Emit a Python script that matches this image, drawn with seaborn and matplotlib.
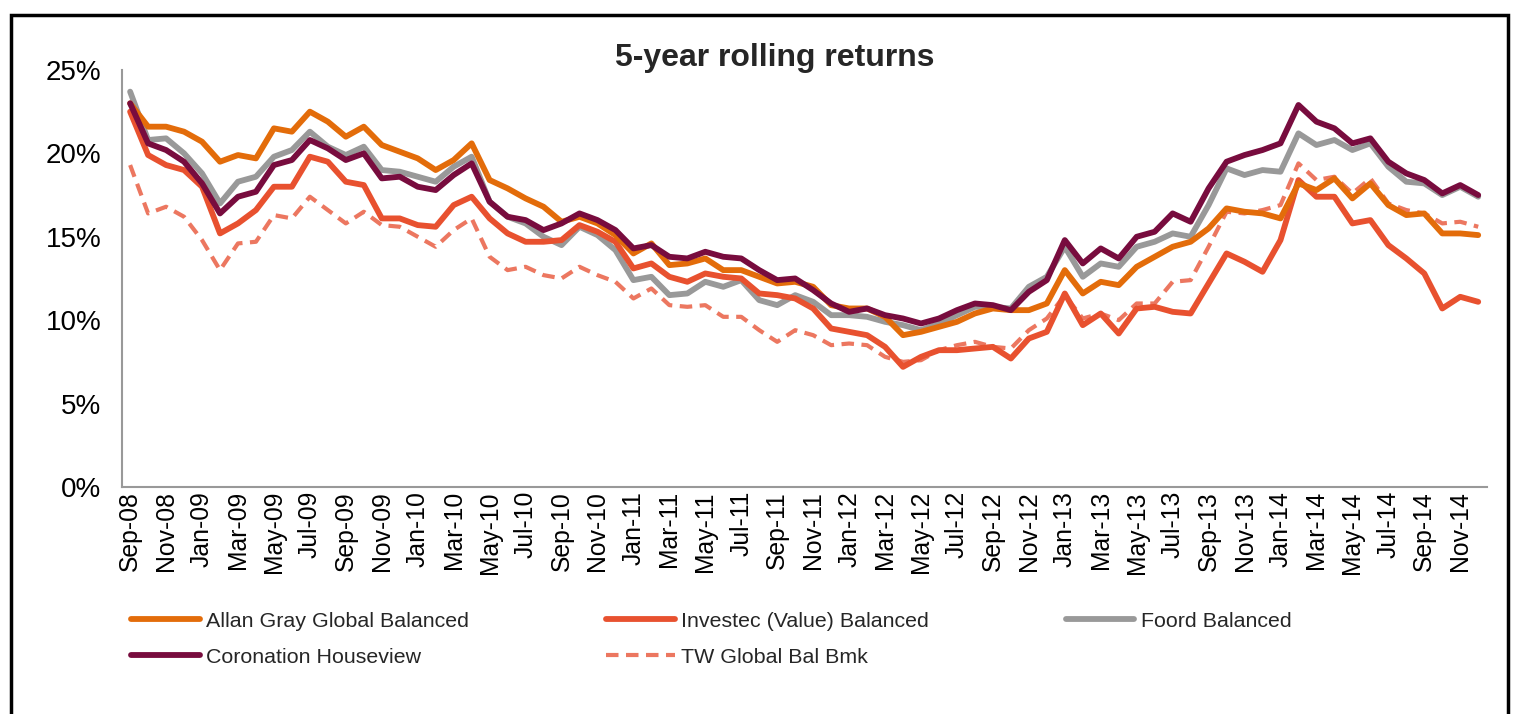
import matplotlib
matplotlib.use("Agg")
import matplotlib.pyplot as plt
import matplotlib.patches as mpatches
import numpy as np
import pandas as pd
import seaborn as sns

months = pd.date_range("2008-09-01", periods=76, freq="MS").strftime("%b-%y").tolist()

allan_gray = [
    23.0, 21.6, 21.6, 21.3, 20.7, 19.5, 19.9, 19.7, 21.5, 21.3, 22.5, 21.9,
    21.0, 21.6, 20.5, 20.1, 19.7, 19.0, 19.6, 20.6, 18.4, 17.9, 17.3, 16.8,
    15.9, 16.2, 15.8, 15.1, 14.0, 14.6, 13.3, 13.4, 13.7, 13.0, 13.0, 12.6,
    12.2, 12.3, 12.0, 10.9, 10.7, 10.7, 10.2, 9.1, 9.3, 9.6, 9.9, 10.4,
    10.7, 10.6, 10.6, 11.0, 13.0, 11.6, 12.3, 12.1, 13.2, 13.8, 14.4, 14.7,
    15.5, 16.7, 16.5, 16.4, 16.1, 18.2, 17.8, 18.5, 17.3, 18.2, 16.9, 16.3,
    16.4, 15.2, 15.2, 15.1,
]
investec = [
    22.5, 19.9, 19.3, 19.0, 18.0, 15.2, 15.8, 16.6, 18.0, 18.0, 19.8, 19.5,
    18.3, 18.1, 16.1, 16.1, 15.7, 15.6, 16.9, 17.4, 16.1, 15.2, 14.7, 14.7,
    14.8, 15.7, 15.3, 14.7, 13.1, 13.4, 12.6, 12.3, 12.8, 12.6, 12.5, 11.6,
    11.5, 11.3, 10.7, 9.5, 9.3, 9.1, 8.4, 7.2, 7.8, 8.2, 8.2, 8.3,
    8.4, 7.7, 8.9, 9.3, 11.6, 9.7, 10.4, 9.2, 10.7, 10.8, 10.5, 10.4,
    12.2, 14.0, 13.5, 12.9, 14.8, 18.4, 17.4, 17.4, 15.8, 16.0, 14.5, 13.7,
    12.8, 10.7, 11.4, 11.1,
]
foord = [
    23.7, 20.8, 20.9, 20.0, 18.8, 17.0, 18.3, 18.6, 19.8, 20.2, 21.3, 20.4,
    19.9, 20.4, 19.0, 18.9, 18.6, 18.3, 19.2, 19.8, 17.1, 16.2, 15.8, 15.0,
    14.5, 15.6, 15.1, 14.2, 12.4, 12.6, 11.5, 11.6, 12.3, 12.0, 12.4, 11.2,
    10.9, 11.5, 11.1, 10.3, 10.3, 10.2, 9.9, 9.7, 9.4, 9.8, 10.3, 10.8,
    10.8, 10.7, 12.0, 12.6, 14.4, 12.6, 13.4, 13.2, 14.4, 14.7, 15.2, 15.0,
    16.9, 19.1, 18.7, 19.0, 18.9, 21.2, 20.5, 20.8, 20.2, 20.6, 19.2, 18.3,
    18.2, 17.5, 18.0, 17.4,
]
coronation = [
    23.0, 20.6, 20.2, 19.5, 18.2, 16.4, 17.4, 17.7, 19.3, 19.6, 20.8, 20.3,
    19.6, 20.0, 18.5, 18.6, 18.0, 17.8, 18.7, 19.4, 17.1, 16.2, 16.0, 15.4,
    15.8, 16.4, 16.0, 15.4, 14.3, 14.5, 13.8, 13.7, 14.1, 13.8, 13.7, 13.0,
    12.4, 12.5, 11.8, 11.0, 10.5, 10.7, 10.3, 10.1, 9.8, 10.1, 10.6, 11.0,
    10.9, 10.6, 11.7, 12.4, 14.8, 13.4, 14.3, 13.7, 15.0, 15.3, 16.4, 15.9,
    17.9, 19.5, 19.9, 20.2, 20.6, 22.9, 21.9, 21.5, 20.6, 20.9, 19.5, 18.8,
    18.4, 17.6, 18.1, 17.5,
]
tw_bmk = [
    19.3, 16.4, 16.8, 16.2, 14.8, 13.0, 14.6, 14.7, 16.3, 16.1, 17.4, 16.6,
    15.8, 16.5, 15.7, 15.6, 15.0, 14.4, 15.4, 16.1, 13.8, 13.0, 13.2, 12.7,
    12.5, 13.2, 12.7, 12.3, 11.3, 11.9, 10.9, 10.8, 10.9, 10.2, 10.2, 9.4,
    8.7, 9.4, 9.1, 8.5, 8.6, 8.5, 7.8, 7.5, 7.6, 8.2, 8.5, 8.7,
    8.4, 8.3, 9.4, 10.1, 11.5, 10.1, 10.4, 10.0, 11.0, 11.0, 12.3, 12.4,
    14.4, 16.5, 16.4, 16.6, 16.9, 19.4, 18.4, 18.6, 17.6, 18.5, 17.0, 16.6,
    16.4, 15.8, 15.9, 15.6,
]

series = [
    ("Allan Gray Global Balanced", allan_gray, "#E36C0A", "-", 4.2),
    ("Investec (Value) Balanced", investec, "#E8512F", "-", 4.2),
    ("Foord Balanced", foord, "#999999", "-", 4.2),
    ("Coronation Houseview", coronation, "#780C3E", "-", 4.2),
    ("TW Global Bal Bmk", tw_bmk, "#EC7760", (0, (3, 1.8)), 3.0),
]

sns.set_style("white")
plt.rcParams["font.family"] = ["Liberation Sans", "DejaVu Sans"]

fig = plt.figure(figsize=(15.16, 7.14), dpi=100)
ax = fig.add_axes([0.0805, 0.318, 0.9005, 0.584])

x = np.arange(len(months))
draw_order = [2, 4, 1, 0, 3]
for k in draw_order:
    name, vals, color, ls, lw = series[k]
    sns.lineplot(x=x, y=vals, ax=ax, color=color, linewidth=lw,
                 linestyle=ls, label=name, legend=False)

ax.set_xlim(-0.45, 75.5)
ax.set_ylim(0, 25)
ax.set_yticks(range(0, 26, 5))
ax.set_yticklabels([f"{v}%" for v in range(0, 26, 5)], fontsize=20)
ax.set_xticks(x[::2])
ax.set_xticklabels(months[::2], rotation=90, fontsize=17.8)
ax.tick_params(axis="both", length=0, labelcolor="black")
ax.tick_params(axis="x", pad=3)
ax.tick_params(axis="y", pad=15)
for side in ["top", "right"]:
    ax.spines[side].set_visible(False)
for side in ["left", "bottom"]:
    ax.spines[side].set_color("#999999")
    ax.spines[side].set_linewidth(1.5)
ax.set_xlabel("")
ax.set_ylabel("")

fig.text(0.511, 0.919, "5-year rolling returns", ha="center", va="center",
         fontsize=23, fontweight="bold")

handles, labels = ax.get_legend_handles_labels()
lookup = dict(zip(labels, handles))
legend_order = [series[0][0], series[3][0], series[1][0], series[4][0], series[2][0]]
fig.legend([lookup[n] for n in legend_order], legend_order, ncol=3,
           loc="upper left", bbox_to_anchor=(0.074, 0.17, 0.9, 0.0),
           bbox_transform=fig.transFigure, frameon=False, fontsize=15.4,
           handlelength=3.2, handletextpad=0.3, columnspacing=6.4,
           labelspacing=0.8)

fig.patches.append(mpatches.Rectangle((0.007, -0.05), 0.988, 1.029,
                                      transform=fig.transFigure, fill=False,
                                      edgecolor="black", linewidth=2.5))

fig.savefig("out.png", dpi=100)
